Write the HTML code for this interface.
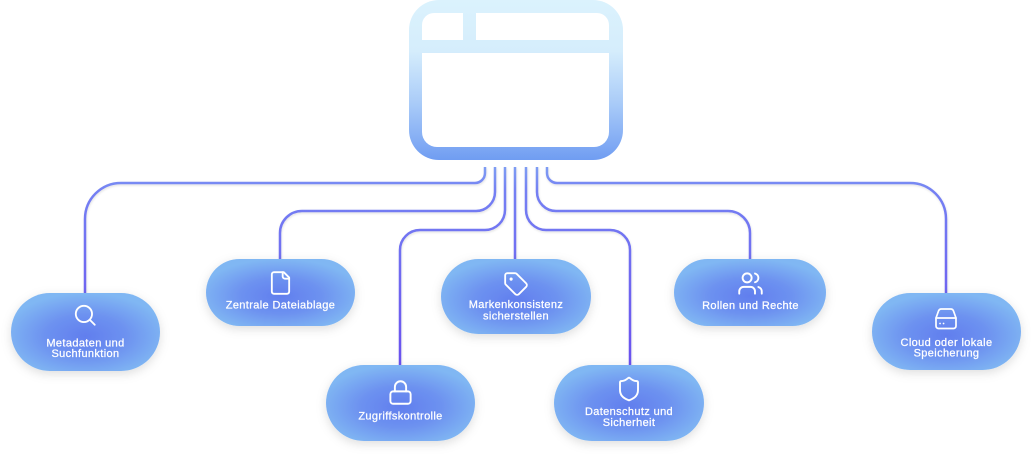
<!DOCTYPE html>
<html>
<head>
<meta charset="utf-8">
<style>
  html, body { margin: 0; padding: 0; background: #ffffff; }
  body { width: 1032px; height: 455px; overflow: hidden; }
  svg { display: block; }
  .lbl { font-family: "Liberation Sans", "DejaVu Sans", sans-serif; font-size: 11px; fill: #ffffff; stroke: #ffffff; stroke-width: 0.25px; letter-spacing: 0.37px; text-anchor: middle; }
  .ic { fill: none; stroke: #ffffff; stroke-width: 1.7; stroke-linecap: round; stroke-linejoin: round; }
</style>
</head>
<body>
<svg width="1032" height="455" viewBox="0 0 1032 455" xmlns="http://www.w3.org/2000/svg">
  <defs>
    <linearGradient id="win" x1="0" y1="0" x2="0" y2="160" gradientUnits="userSpaceOnUse">
      <stop offset="0" stop-color="#dbf2fd"/>
      <stop offset="0.32" stop-color="#d5edfc"/>
      <stop offset="0.65" stop-color="#a9cbf8"/>
      <stop offset="1" stop-color="#709df2"/>
    </linearGradient>
    <linearGradient id="ln" x1="0" y1="167" x2="0" y2="365" gradientUnits="userSpaceOnUse">
      <stop offset="0" stop-color="#7e9df3"/>
      <stop offset="0.12" stop-color="#7480f3"/>
      <stop offset="1" stop-color="#6a50ef"/>
    </linearGradient>
    <radialGradient id="pill" cx="0.5" cy="0.55" r="0.55">
      <stop offset="0" stop-color="#617eee"/>
      <stop offset="0.5" stop-color="#6d92f0"/>
      <stop offset="1" stop-color="#80b7f3"/>
    </radialGradient>
    <filter id="sh" x="-20%" y="-30%" width="140%" height="170%">
      <feDropShadow dx="0" dy="3" stdDeviation="5" flood-color="#000000" flood-opacity="0.13"/>
    </filter>
    <filter id="lsh" x="-10%" y="-10%" width="120%" height="120%">
      <feDropShadow dx="0.5" dy="1.2" stdDeviation="1" flood-color="#000000" flood-opacity="0.12"/>
    </filter>
  </defs>

  <!-- Window icon -->
  <rect x="409" y="0" width="214" height="160" rx="30" fill="url(#win)"/>
  <path d="M434 13 H463 V40 H422 V25 A12 12 0 0 1 434 13 Z" fill="#ffffff"/>
  <path d="M476 13 H597 A12 12 0 0 1 609 25 V40 H476 Z" fill="#ffffff"/>
  <path d="M422 53 H609 V132 A15 15 0 0 1 594 147 H437 A15 15 0 0 1 422 132 Z" fill="#ffffff"/>

  <!-- Connectors -->
  <g fill="none" stroke="url(#ln)" stroke-width="2.5" filter="url(#lsh)">
    <path d="M485 167 V173 A10 10 0 0 1 475 183 H121 A36 36 0 0 0 85 219 V293"/>
    <path d="M495 167 V192 A19 19 0 0 1 476 211 H302 A22 22 0 0 0 280 233 V259"/>
    <path d="M505 167 V210 A20 20 0 0 1 485 230 H420 A20 20 0 0 0 400 250 V365"/>
    <path d="M515 167 V259"/>
    <path d="M526 167 V210 A20 20 0 0 0 546 230 H610 A20 20 0 0 1 630 250 V365"/>
    <path d="M537 167 V192 A19 19 0 0 0 556 211 H728 A22 22 0 0 1 750 233 V259"/>
    <path d="M547 167 V173 A10 10 0 0 0 557 183 H910 A36 36 0 0 1 946 219 V293"/>
  </g>

  <!-- Pills -->
  <g filter="url(#sh)">
    <rect x="11" y="293" width="149" height="78" rx="39" fill="url(#pill)"/>
    <rect x="206" y="259" width="149" height="67" rx="33.5" fill="url(#pill)"/>
    <rect x="326" y="365" width="149" height="76" rx="38" fill="url(#pill)"/>
    <rect x="441" y="259" width="150" height="75" rx="37.5" fill="url(#pill)"/>
    <rect x="554" y="365" width="150" height="76" rx="38" fill="url(#pill)"/>
    <rect x="674" y="259" width="152" height="67" rx="33.5" fill="url(#pill)"/>
    <rect x="872" y="293" width="149" height="77" rx="38.5" fill="url(#pill)"/>
  </g>

  <!-- Icons -->
  <svg x="72" y="302" width="26" height="26" viewBox="0 0 24 24"><g class="ic"><circle cx="11" cy="11" r="7.5"/><path d="M21 21 16.6 16.6"/></g></svg>
  <svg x="267.5" y="270" width="26" height="26" viewBox="0 0 24 24"><g class="ic"><path d="M15 2H6a2 2 0 0 0-2 2v16a2 2 0 0 0 2 2h12a2 2 0 0 0 2-2V7Z"/><path d="M14 2v4a2 2 0 0 0 2 2h4"/></g></svg>
  <svg x="387" y="379" width="27" height="27" viewBox="0 0 24 24"><g class="ic"><rect x="3" y="11" width="18" height="11" rx="2.5"/><path d="M7 11V7a5 5 0 0 1 10 0v4"/></g></svg>
  <svg x="503" y="271" width="26" height="26" viewBox="0 0 24 24"><g class="ic"><path d="M12.586 2.586A2 2 0 0 0 11.172 2H4a2 2 0 0 0-2 2v7.172a2 2 0 0 0 .586 1.414l8.704 8.704a2.426 2.426 0 0 0 3.42 0l6.58-6.58a2.426 2.426 0 0 0 0-3.42z"/><circle cx="7.5" cy="7.5" r="0.6" fill="#fff"/></g></svg>
  <svg x="615.5" y="375.5" width="27" height="27" viewBox="0 0 24 24"><g class="ic"><path d="M20 13c0 5-3.5 7.5-7.66 8.95a1 1 0 0 1-.67-.01C7.5 20.5 4 18 4 13V6a1 1 0 0 1 1-1c2 0 4.5-1.2 6.24-2.72a1.17 1.17 0 0 1 1.52 0C14.51 3.81 17 5 19 5a1 1 0 0 1 1 1z"/></g></svg>
  <svg x="737" y="270" width="27" height="27" viewBox="0 0 24 24"><g class="ic"><path d="M16 21v-2a4 4 0 0 0-4-4H6a4 4 0 0 0-4 4v2"/><circle cx="9" cy="7" r="4"/><path d="M22 21v-2a4 4 0 0 0-3-3.87"/><path d="M16 3.13a4 4 0 0 1 0 7.75"/></g></svg>
  <g class="ic">
    <path d="M936 318 L938.5 311 A3 3 0 0 1 941.3 309 H950.7 A3 3 0 0 1 953.5 311 L956 318 V326 A2.5 2.5 0 0 1 953.5 328.5 H938.5 A2.5 2.5 0 0 1 936 326 Z"/>
    <path d="M936 318 H956"/>
    <path d="M940 323.5 h0.1"/>
    <path d="M943.5 323.5 h0.1"/>
  </g>

  <!-- Labels -->
  <text class="lbl" x="85.5" y="346.5">Metadaten und</text>
  <text class="lbl" x="85.5" y="357">Suchfunktion</text>
  <text class="lbl" x="280.5" y="308.5">Zentrale Dateiablage</text>
  <text class="lbl" x="400.5" y="419.5">Zugriffskontrolle</text>
  <text class="lbl" x="516" y="308">Markenkonsistenz</text>
  <text class="lbl" x="516" y="319.5">sicherstellen</text>
  <text class="lbl" x="629" y="415">Datenschutz und</text>
  <text class="lbl" x="629" y="426">Sicherheit</text>
  <text class="lbl" x="750.5" y="309">Rollen und Rechte</text>
  <text class="lbl" x="946.5" y="346">Cloud oder lokale</text>
  <text class="lbl" x="946.5" y="356.5">Speicherung</text>
</svg>
</body>
</html>
